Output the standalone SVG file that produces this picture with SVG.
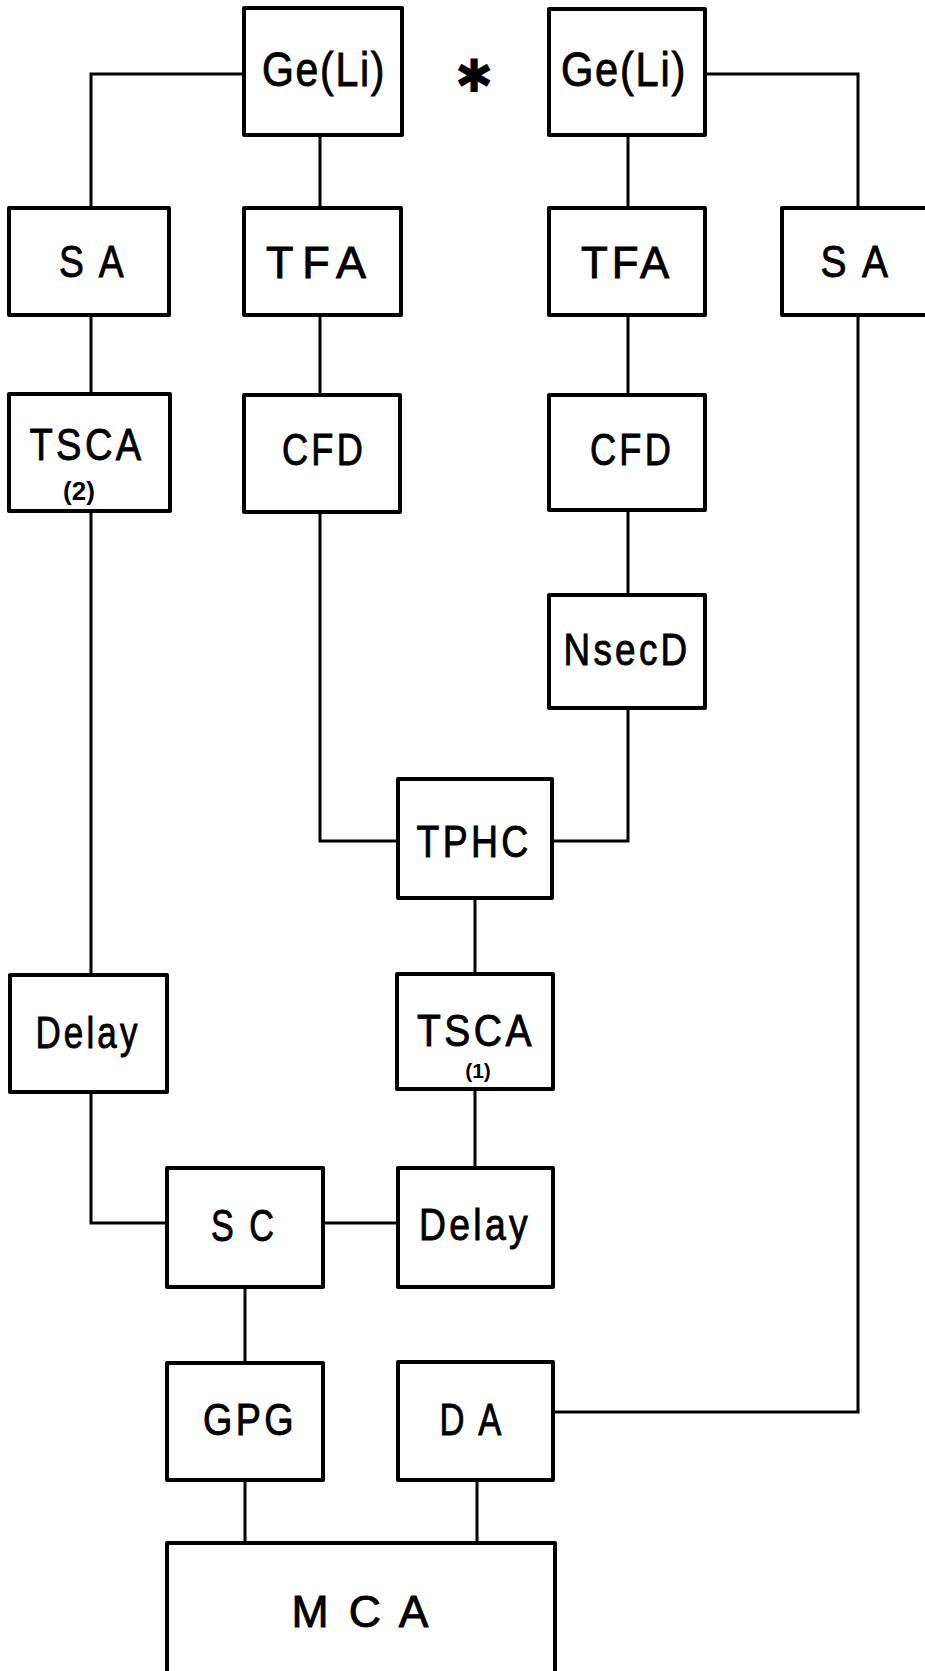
<svg xmlns="http://www.w3.org/2000/svg" width="925" height="1671" viewBox="0 0 925 1671">
<style>
.box{fill:#fff;stroke:#000;stroke-width:4;stroke-linejoin:round}
.ln{fill:none;stroke:#000;stroke-width:3;stroke-linejoin:miter;stroke-linecap:square}
.t{font-family:"Liberation Sans",Arial,sans-serif;font-size:45px;fill:#000;stroke:#000;stroke-width:0.9;text-anchor:middle;letter-spacing:4px}
.g{font-size:49px;letter-spacing:2px}
.s{font-family:"Liberation Sans",Arial,sans-serif;font-weight:bold;fill:#000;text-anchor:middle}
</style>
<rect width="925" height="1671" fill="#fff"/>
<g id="connectors">
<path class="ln" d="M244,74 H91 V208"/>
<path class="ln" d="M320,135 V208"/>
<path class="ln" d="M628,135 V208"/>
<path class="ln" d="M705,74 H858 V208"/>
<path class="ln" d="M91,315 V394"/>
<path class="ln" d="M320,315 V395"/>
<path class="ln" d="M628,315 V395"/>
<path class="ln" d="M858,315 V1412 H553"/>
<path class="ln" d="M91,511 V975"/>
<path class="ln" d="M320,512 V841 H398"/>
<path class="ln" d="M628,510 V595"/>
<path class="ln" d="M628,708 V841 H552"/>
<path class="ln" d="M475,898 V974"/>
<path class="ln" d="M91,1092 V1223 H167"/>
<path class="ln" d="M475,1089 V1168"/>
<path class="ln" d="M323,1223 H398"/>
<path class="ln" d="M245,1287 V1363"/>
<path class="ln" d="M245,1480 V1543"/>
<path class="ln" d="M477,1480 V1543"/>
</g>
<g id="star"><text x="474" y="76" dominant-baseline="central" text-anchor="middle" font-family="DejaVu Sans, sans-serif" font-size="46" fill="#000">✱</text></g>
<g id="geli1"><rect class="box" x="244" y="8" width="158" height="127"/><text class="t g" x="324" y="86" textLength="124" lengthAdjust="spacingAndGlyphs">Ge(Li)</text></g>
<g id="geli2"><rect class="box" x="549" y="9" width="156" height="126"/><text class="t g" x="624" y="86" textLength="126" lengthAdjust="spacingAndGlyphs">Ge(Li)</text></g>
<g id="sa1"><rect class="box" x="9" y="208" width="160" height="107"/><text class="t" x="93" y="277" textLength="68" lengthAdjust="spacingAndGlyphs">S A</text></g>
<g id="tfa1"><rect class="box" x="244" y="208" width="157" height="107"/><text class="t" x="318" y="278" textLength="104" lengthAdjust="spacing">TFA</text></g>
<g id="tfa2"><rect class="box" x="549" y="208" width="156" height="107"/><text class="t" x="627" y="278" textLength="92" lengthAdjust="spacingAndGlyphs">TFA</text></g>
<g id="sa2"><rect class="box" x="782" y="208" width="150" height="107"/><text class="t" x="856" y="277" textLength="71" lengthAdjust="spacingAndGlyphs">S A</text></g>
<g id="tsca2"><rect class="box" x="9" y="394" width="161" height="117"/><text class="t" x="87" y="460" textLength="115" lengthAdjust="spacingAndGlyphs">TSCA</text><text class="s" x="79" y="500" font-size="26">(2)</text></g>
<g id="cfd1"><rect class="box" x="244" y="395" width="156" height="117"/><text class="t" x="324" y="465" textLength="84" lengthAdjust="spacingAndGlyphs">CFD</text></g>
<g id="cfd2"><rect class="box" x="549" y="395" width="156" height="115"/><text class="t" x="632" y="465" textLength="84" lengthAdjust="spacingAndGlyphs">CFD</text></g>
<g id="nsecd"><rect class="box" x="549" y="595" width="156" height="113"/><text class="t" x="627" y="665" textLength="127" lengthAdjust="spacingAndGlyphs">NsecD</text></g>
<g id="tphc"><rect class="box" x="398" y="779" width="154" height="119"/><text class="t" x="474" y="857" textLength="115" lengthAdjust="spacingAndGlyphs">TPHC</text></g>
<g id="delay1"><rect class="box" x="10" y="975" width="157" height="117"/><text class="t" x="88" y="1048" textLength="105" lengthAdjust="spacingAndGlyphs">Delay</text></g>
<g id="tsca1"><rect class="box" x="397" y="974" width="156" height="115"/><text class="t" x="476" y="1046" textLength="118" lengthAdjust="spacingAndGlyphs">TSCA</text><text class="s" x="478" y="1078" font-size="21">(1)</text></g>
<g id="sc"><rect class="box" x="167" y="1168" width="156" height="119"/><text class="t" x="244" y="1241" textLength="66" lengthAdjust="spacingAndGlyphs">S C</text></g>
<g id="delay2"><rect class="box" x="398" y="1168" width="155" height="119"/><text class="t" x="475" y="1240" textLength="112" lengthAdjust="spacingAndGlyphs">Delay</text></g>
<g id="gpg"><rect class="box" x="167" y="1363" width="156" height="117"/><text class="t" x="250" y="1435" textLength="94" lengthAdjust="spacingAndGlyphs">GPG</text></g>
<g id="da"><rect class="box" x="398" y="1362" width="155" height="118"/><text class="t" x="472" y="1435" textLength="65" lengthAdjust="spacingAndGlyphs">D A</text></g>
<g id="mca"><rect class="box" x="167" y="1543" width="388" height="140"/><text class="t" x="362" y="1627" textLength="141" lengthAdjust="spacingAndGlyphs">M C A</text></g>
</svg>
